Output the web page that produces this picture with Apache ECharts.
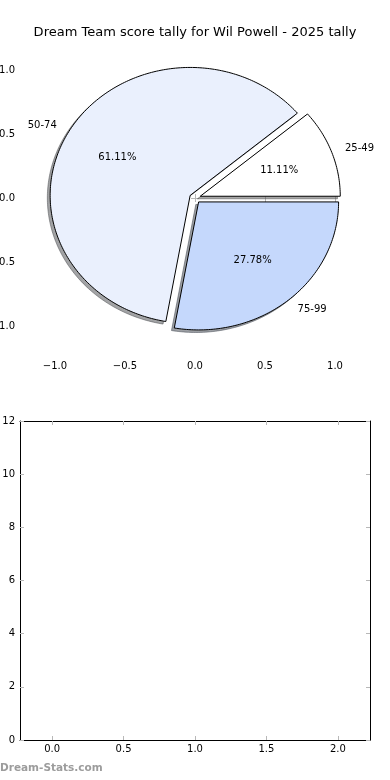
<!DOCTYPE html>
<html>
<head>
<meta charset="utf-8">
<script src="https://cdn.jsdelivr.net/npm/echarts@6/dist/echarts.min.js"></script>
<style>
html,body{margin:0;padding:0;background:#fff;}
#c{width:390px;height:780px;}
</style>
</head>
<body>
<div id="c"></div>
<script>
const titleText = 'Dream Team score tally for Wil Powell - 2025 tally';
const categories = ['25-49', '50-74', '75-99'];
const values = [2, 11, 5];
const pieTicks = [-1, -0.5, 0, 0.5, 1];
const barXTicks = [0, 0.5, 1, 1.5, 2];
const watermark = 'Dream-Stats.com';

const sliceColors = ['#ffffff', '#eaf0fd', '#c5d8fc'];
const EXPLODE = 0.04;
const FONT = 'DejaVu Sans';
const TICK_COLOR = '#b8b8b8';

const total = values.reduce((a, b) => a + b, 0);
const starts = [];
let acc = 0;
values.forEach(v => { starts.push(acc / total * 360); acc += v; });

function fmt1(v) {
  const s = Math.abs(v).toFixed(1);
  return v < 0 ? '\u2212' + s : s;
}
function hexToRgb(h) {
  const n = parseInt(h.slice(1), 16);
  return [(n >> 16) & 255, (n >> 8) & 255, n & 255];
}
function shadowColor(h) {
  const c = hexToRgb(h).map(x => Math.round(x * 0.3));
  return 'rgba(' + c.join(',') + ',0.5)';
}

function wedgePoints(api, i, ox, oy) {
  const a0 = starts[i];
  const a1 = a0 + values[i] / total * 360;
  const mid = (a0 + a1) / 2 * Math.PI / 180;
  const cx = EXPLODE * Math.cos(mid) + ox;
  const cy = EXPLODE * Math.sin(mid) + oy;
  const pts = [api.coord([cx, cy])];
  const steps = Math.max(8, Math.ceil((a1 - a0)));
  for (let k = 0; k <= steps; k++) {
    const a = (a0 + (a1 - a0) * k / steps) * Math.PI / 180;
    pts.push(api.coord([cx + Math.cos(a), cy + Math.sin(a)]));
  }
  return { pts, mid, cx, cy };
}

const pieData = values.map((v, i) => [i, v]);

const option = {
  animation: false,
  backgroundColor: '#ffffff',
  title: {
    text: titleText,
    left: 'center',
    top: 21,
    textStyle: { fontFamily: FONT, fontSize: 13, fontWeight: 'normal', color: '#000' }
  },
  grid: [
    { left: 20, top: 38, width: 350, height: 320, outerBoundsMode: 'none', containLabel: false },
    { left: 20, top: 421, width: 350, height: 319, outerBoundsMode: 'none', containLabel: false }
  ],
  xAxis: [
    {
      gridIndex: 0, type: 'value', min: -1.25, max: 1.25, position: 'bottom',
      axisLine: { show: false }, splitLine: { show: false },
      axisTick: { show: true, inside: true, length: 4, customValues: pieTicks, lineStyle: { color: TICK_COLOR } },
      axisLabel: { show: true, customValues: pieTicks, formatter: fmt1, margin: 3, fontFamily: FONT, fontSize: 10, color: '#000' }
    },
    {
      gridIndex: 0, type: 'value', min: -1.25, max: 1.25, position: 'top',
      axisLine: { show: false }, splitLine: { show: false },
      axisTick: { show: true, inside: true, length: 4, customValues: pieTicks, lineStyle: { color: TICK_COLOR } },
      axisLabel: { show: false }
    },
    {
      gridIndex: 1, type: 'value', min: -0.225, max: 2.225, position: 'bottom',
      axisLine: { show: true, onZero: false, lineStyle: { color: '#000', width: 1 } }, splitLine: { show: false },
      axisTick: { show: true, inside: true, length: 4, customValues: barXTicks, lineStyle: { color: TICK_COLOR } },
      axisLabel: { show: true, customValues: barXTicks, formatter: fmt1, margin: 4, fontFamily: FONT, fontSize: 10, color: '#000' }
    },
    {
      gridIndex: 1, type: 'value', min: -0.225, max: 2.225, position: 'top',
      axisLine: { show: true, onZero: false, lineStyle: { color: '#000', width: 1 } }, splitLine: { show: false },
      axisTick: { show: true, inside: true, length: 4, customValues: barXTicks, lineStyle: { color: TICK_COLOR } },
      axisLabel: { show: false }
    }
  ],
  yAxis: [
    {
      gridIndex: 0, type: 'value', min: -1.25, max: 1.25, position: 'left',
      axisLine: { show: false }, splitLine: { show: false },
      axisTick: { show: true, inside: true, length: 4, customValues: pieTicks, lineStyle: { color: TICK_COLOR } },
      axisLabel: { show: true, customValues: pieTicks, formatter: fmt1, margin: 5, fontFamily: FONT, fontSize: 10, color: '#000' }
    },
    {
      gridIndex: 0, type: 'value', min: -1.25, max: 1.25, position: 'right',
      axisLine: { show: false }, splitLine: { show: false },
      axisTick: { show: true, inside: true, length: 4, customValues: pieTicks, lineStyle: { color: TICK_COLOR } },
      axisLabel: { show: false }
    },
    {
      gridIndex: 1, type: 'value', min: 0, max: 12, interval: 2, position: 'left',
      axisLine: { show: true, onZero: false, lineStyle: { color: '#000', width: 1 } }, splitLine: { show: false },
      axisTick: { show: true, inside: true, length: 4, lineStyle: { color: TICK_COLOR } },
      axisLabel: { show: true, margin: 5, fontFamily: FONT, fontSize: 10, color: '#000' }
    },
    {
      gridIndex: 1, type: 'value', min: 0, max: 12, interval: 2, position: 'right',
      axisLine: { show: true, onZero: false, lineStyle: { color: '#000', width: 1 } }, splitLine: { show: false },
      axisTick: { show: true, inside: true, length: 4, lineStyle: { color: TICK_COLOR } },
      axisLabel: { show: false }
    }
  ],
  series: [
    {
      type: 'custom', name: 'shadow', coordinateSystem: 'cartesian2d', xAxisIndex: 0, yAxisIndex: 0,
      z: 1, clip: false, silent: true,
      data: pieData,
      renderItem: function (params, api) {
        const i = api.value(0);
        const w = wedgePoints(api, i, -0.02, -0.02);
        const c = shadowColor(sliceColors[i]);
        return { type: 'polygon', shape: { points: w.pts }, style: { fill: c, stroke: c, lineWidth: 1 } };
      }
    },
    {
      type: 'custom', name: 'pie', coordinateSystem: 'cartesian2d', xAxisIndex: 0, yAxisIndex: 0,
      z: 2, clip: false,
      data: pieData,
      renderItem: function (params, api) {
        const i = api.value(0);
        const w = wedgePoints(api, i, 0, 0);
        const lx = w.cx + 1.1 * Math.cos(w.mid);
        const ly = w.cy + 1.1 * Math.sin(w.mid);
        const lp = api.coord([lx, ly]);
        const px = w.cx + 0.6 * Math.cos(w.mid);
        const py = w.cy + 0.6 * Math.sin(w.mid);
        const pp = api.coord([px, py]);
        const pct = (values[i] / total * 100).toFixed(2) + '%';
        return {
          type: 'group',
          children: [
            { type: 'polygon', shape: { points: w.pts }, style: { fill: sliceColors[i], stroke: '#000', lineWidth: 1, lineJoin: 'miter' } },
            { type: 'text', x: lp[0], y: lp[1], style: { text: categories[i], fill: '#000', font: '10px "DejaVu Sans"', align: lx >= 0 ? 'left' : 'right', verticalAlign: 'middle' } },
            { type: 'text', x: pp[0], y: pp[1], style: { text: pct, fill: '#000', font: '10px "DejaVu Sans"', align: 'center', verticalAlign: 'middle' } }
          ]
        };
      }
    }
  ],
  graphic: [
    { type: 'text', left: 0, top: 763, style: { text: watermark, fill: '#9c9c9c', font: 'bold 10.5px "DejaVu Sans"' } }
  ]
};

const chart = echarts.init(document.getElementById('c'), null, { renderer: 'canvas' });
chart.setOption(option);
</script>
</body>
</html>
